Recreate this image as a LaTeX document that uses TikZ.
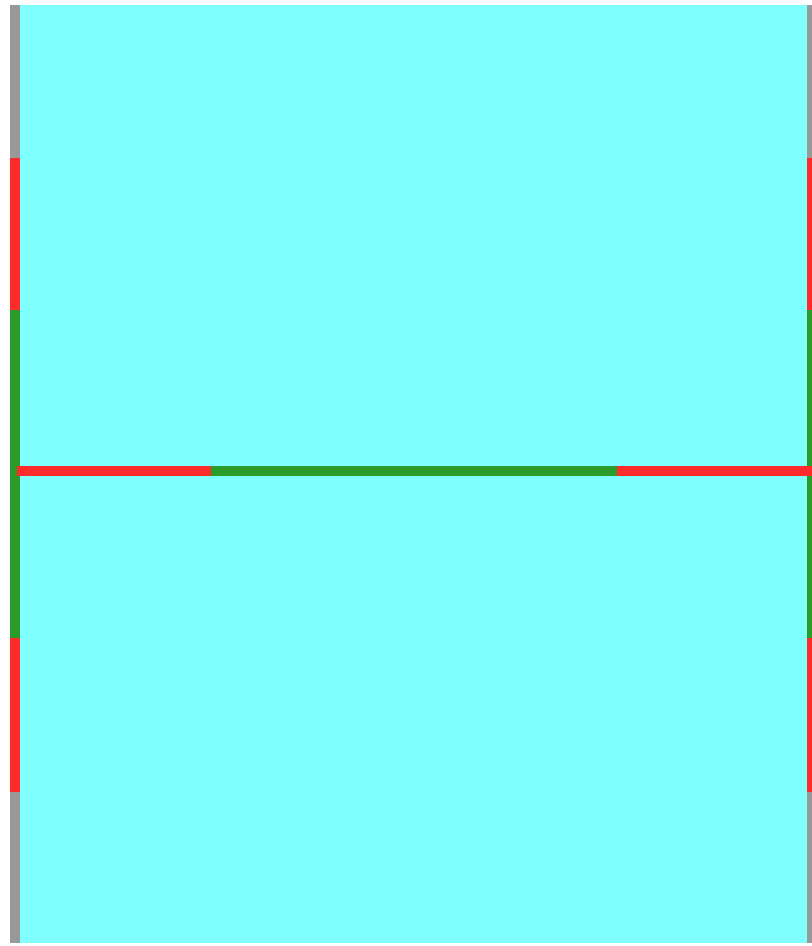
\documentclass[tikz,border=0pt]{standalone}
\usepackage{xcolor}
\usepackage{tikz}
\usetikzlibrary{calc}
\definecolor{pool}{HTML}{80FFFF}
\definecolor{wall}{HTML}{999999}
\definecolor{hot}{HTML}{FF2B2B}
\definecolor{ok}{HTML}{2B9B2B}
\tikzset{
  wallseg/.style={line width=2.85pt},
  barseg/.style={line width=2.6pt},
}

\begin{document}
\begin{tikzpicture}
  \useasboundingbox (0,0) rectangle (8.12,9.46);
  \coordinate (bl) at (0.15,0.03);
  \coordinate (tl) at (0.15,9.41);
  \coordinate (br) at (8.12,0.03);
  \coordinate (tr) at (8.12,9.41);
  \fill[pool] (bl) rectangle (tr);
  % side walls
  \foreach \x in {0.15,8.12}{
    \draw[wallseg,wall] (\x,0.03)--(\x,1.54);
    \draw[wallseg,hot]  (\x,1.54)--(\x,3.08);
    \draw[wallseg,ok]   (\x,3.08)--(\x,6.36);
    \draw[wallseg,hot]  (\x,6.36)--(\x,7.88);
    \draw[wallseg,wall] (\x,7.88)--(\x,9.41);
  }
  % crossbar
  \coordinate (ca) at (0.17,4.75);
  \coordinate (cb) at (2.11,4.75);
  \coordinate (cc) at (6.17,4.75);
  \coordinate (cd) at (8.12,4.75);
  \draw[barseg,hot] (ca)--(cb);
  \draw[barseg,ok]  (cb)--(cc);
  \draw[barseg,hot] (cc)--(cd);
\end{tikzpicture}
\end{document}
